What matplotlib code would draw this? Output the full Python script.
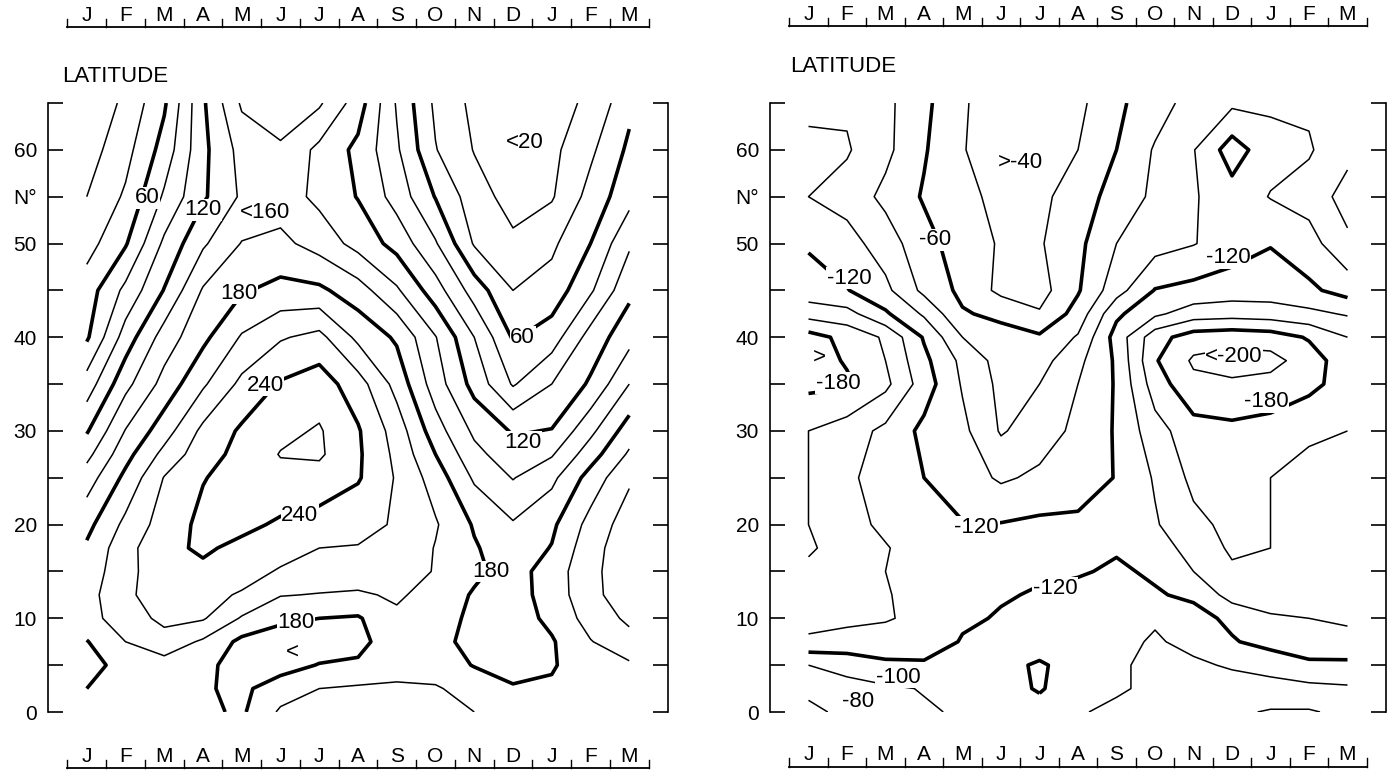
import numpy as np
import matplotlib
matplotlib.use('Agg')
import matplotlib.pyplot as plt
from matplotlib.transforms import blended_transform_factory

plt.rcParams['font.family'] = ['Liberation Sans', 'DejaVu Sans']

# month index 0..14 = J F M A M J J A S O N D J F M
months = ['J', 'F', 'M', 'A', 'M', 'J', 'J', 'A', 'S', 'O', 'N', 'D', 'J', 'F', 'M']
mon_x = np.arange(15)

# left panel
lat_left = [0, 2.5, 5, 7.5, 10, 12.5, 15, 17.5, 20, 25, 27.5, 30, 35, 40, 45, 50, 55, 60, 65]
z_left = [
    [185, 188, 188, 184, 177, 203, 207, 208, 208, 206, 200, 190, 188, 187, 185],
    [180, 186, 187, 182, 176, 190, 200, 203, 204, 202, 192, 182, 183, 190, 192],
    [172, 188, 192, 185, 172, 172, 181, 182, 190, 190, 179, 172, 178, 192, 197],
    [179, 200, 212, 197, 175, 170, 168, 176, 188, 188, 172, 168, 178, 199, 213],
    [193, 210, 225, 222, 198, 184, 180, 178, 196, 190, 175, 170, 185, 208, 224],
    [192, 217, 228, 226, 218, 201, 199, 197, 203, 192, 178, 172, 188, 215, 230],
    [188, 214, 232, 236, 228, 218, 212, 212, 208, 199, 184, 172, 189, 215, 232],
    [183, 213, 235, 243, 235, 228, 220, 219, 216, 199, 182, 168, 181, 213, 232],
    [174, 205, 229, 245, 245, 237, 232, 226, 218, 202, 178, 162, 176, 207, 230],
    [150, 185, 221, 239, 248, 254, 252, 242, 218, 191, 157, 139, 155, 188, 217],
    [134, 173, 206, 232, 246, 261, 263, 243, 215, 180, 146, 128, 138, 171, 203],
    [118, 161, 191, 225, 243, 255, 262, 242, 211, 169, 136, 118, 121, 155, 190],
    [89, 134, 167, 197, 225, 242, 250, 229, 193, 150, 113, 78, 100, 123, 160],
    [57, 109, 149, 175, 202, 218, 226, 195, 177, 141, 100, 58, 70, 108, 133],
    [50, 85, 121, 162, 178, 186, 184, 169, 143, 109, 71, 40, 48, 77, 115],
    [32, 58, 104, 137, 161, 165, 152, 133, 113, 82, 38, 24, 36, 60, 97],
    [20, 43, 83, 117, 143, 150, 135, 119, 92, 59, 29, 12, 18, 47, 73],
    [11, 33, 68, 115, 147, 157, 135, 115, 83, 41, 19, 10, 15, 36, 64],
    [5, 24, 57, 117, 163, 172, 163, 130, 78, 36, 15, 10, 14, 23, 55],
]

# right panel
lat_right = [0, 2.5, 5, 7.5, 10, 12.5, 15, 17.5, 20, 25, 30, 35, 37.5, 40, 42.5, 45, 50, 55, 60, 65]
z_right = [
    [-75, -85, -95, -98, -102, -108, -112, -102, -95, -90, -86, -84, -78, -78, -85],
    [-85, -92, -97, -101, -108, -112, -122, -108, -103, -95, -92, -92, -95, -95, -97],
    [-100, -108, -115, -116, -111, -113, -123, -110, -103, -95, -97, -102, -105, -115, -117],
    [-136, -132, -135, -135, -118, -110, -108, -106, -105, -98, -105, -118, -128, -135, -130],
    [-148, -145, -141, -137, -124, -118, -112, -108, -108, -102, -112, -125, -135, -140, -145],
    [-160, -148, -141, -135, -127, -122, -118, -114, -113, -118, -124, -148, -160, -150, -148],
    [-155, -148, -140, -135, -128, -125, -123, -122, -117, -123, -140, -157, -158, -145, -140],
    [-163, -150, -141, -133, -127, -124, -125, -125, -122, -130, -148, -163, -160, -148, -140],
    [-160, -145, -137, -127, -121, -121, -124, -124, -126, -138, -155, -165, -160, -148, -140],
    [-160, -143, -133, -120, -110, -97, -104, -110, -121, -142, -165, -168, -160, -150, -140],
    [-160, -150, -135, -115, -105, -78, -90, -105, -122, -152, -172, -175, -172, -165, -160],
    [-185, -183, -165, -130, -98, -75, -80, -100, -122, -170, -195, -197, -193, -185, -172],
    [-190, -178, -160, -125, -95, -72, -72, -95, -123, -178, -203, -208, -207, -190, -168],
    [-188, -174, -157, -118, -80, -68, -63, -82, -128, -172, -190, -193, -190, -178, -160],
    [-152, -147, -123, -97, -62, -55, -42, -68, -116, -136, -150, -152, -150, -145, -138],
    [-128, -121, -105, -75, -55, -35, -32, -58, -92, -121, -126, -130, -130, -124, -112],
    [-118, -108, -90, -67, -50, -38, -38, -55, -80, -92, -99, -110, -119, -108, -84],
    [-100, -92, -75, -58, -45, -35, -35, -50, -68, -84, -98, -112, -99, -92, -72],
    [-105, -102, -85, -62, -41, -30, -32, -40, -60, -82, -99, -130, -107, -102, -86],
    [-95, -97, -85, -65, -42, -30, -30, -35, -56, -71, -88, -96, -97, -97, -93],
]

# in-plot labels (x in months, y in degrees)
labels_left = [
    ('60', 1.55, 54.9), ('120', 3.0, 53.6), ('<160', 4.6, 53.3), ('<20', 11.3, 60.8),
    ('180', 3.93, 44.7), ('60', 11.25, 40.0), ('240', 4.6, 34.9), ('120', 11.25, 28.8),
    ('240', 5.5, 21.0), ('180', 10.43, 15.0), ('180', 5.4, 9.5), ('<', 5.3, 6.4),
]
labels_right = [
    ('>-40', 5.5, 58.6), ('-60', 3.28, 50.4), ('-120', 1.05, 46.3), ('-120', 10.9, 48.5),
    ('<-200', 11.05, 37.9), ('>', 0.27, 37.9), ('-180', 0.77, 35.1), ('-180', 11.9, 33.1),
    ('-120', 4.37, 19.7), ('-120', 6.4, 13.2), ('-100', 2.33, 3.7), ('-80', 1.28, 1.1),
]

fig = plt.figure(figsize=(13.89, 7.71), dpi=100)
ax1 = fig.add_axes([48 / 1389, 59 / 771, 620 / 1389, 609 / 771])
ax2 = fig.add_axes([770 / 1389, 59 / 771, 616 / 1389, 609 / 771])


def draw_panel(ax, lats, z, levels, labels, top_y, bot_y, lat_txt_x, lat_txt_y):
    z = np.array(z, dtype=float)
    thin = [v for v in levels if v % 60 != 0]
    thick = [v for v in levels if v % 60 == 0]
    ax.contour(mon_x, lats, z, levels=thin, colors='k', linewidths=1.1, linestyles='solid')
    ax.contour(mon_x, lats, z, levels=thick, colors='k', linewidths=2.6, linestyles='solid')
    for txt, x, y in labels:
        ax.text(x, y, txt, ha='center', va='center', fontsize=16, zorder=5,
                bbox=dict(fc='white', ec='none', pad=0.3))
    ax.set_xlim(-1, 15)
    ax.set_ylim(0, 65)
    ax.set_xticks([])
    ax.set_yticks(np.arange(0, 66, 5))
    ax.set_yticklabels(['0', '', '10', '', '20', '', '30', '', '40', '', '50', 'N°', '60', ''])
    ax.tick_params(axis='y', direction='in', length=11, width=1.2, right=True,
                   labelright=False, labelsize=15, pad=8)
    for s in ['top', 'bottom']:
        ax.spines[s].set_visible(False)
    for s in ['left', 'right']:
        ax.spines[s].set_linewidth(1.2)

    trans = blended_transform_factory(ax.transData, ax.transAxes)
    for yl in (top_y, bot_y):
        ax.plot([-0.5, 14.5], [yl, yl], transform=trans, color='k', lw=1.3, clip_on=False)
        for b in np.arange(-0.5, 15, 1):
            ax.plot([b, b], [yl, yl + 0.014], transform=trans, color='k', lw=1.0, clip_on=False)
        for i, m in enumerate(months):
            ax.text(i, yl + 0.004, m, transform=trans, ha='center', va='bottom',
                    fontsize=15, clip_on=False)
    ax.text(lat_txt_x, lat_txt_y, 'LATITUDE', transform=trans, ha='left', va='baseline',
            fontsize=16)


draw_panel(ax1, lat_left, z_left, list(range(20, 261, 20)), labels_left,
           1.124, -0.092, -0.64, 1.034)
draw_panel(ax2, lat_right, z_right, list(range(-200, -39, 20)), labels_right,
           1.126, -0.090, -0.48, 1.051)

fig.savefig('out.png', dpi=100)
